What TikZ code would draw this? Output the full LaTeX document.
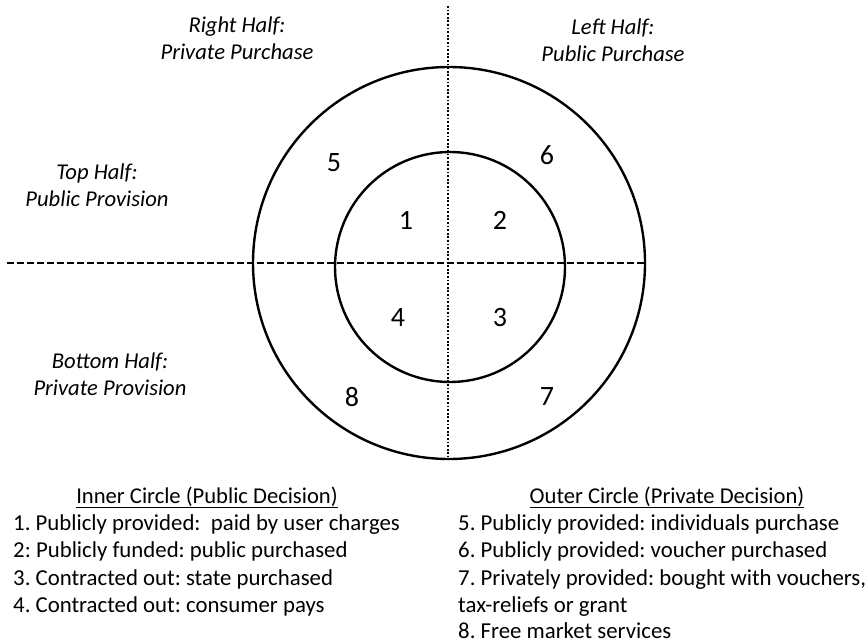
\documentclass[tikz,border=0pt]{standalone}
\usepackage{fontspec}
\setmainfont{Carlito}
\frenchspacing
\begin{document}
\begin{tikzpicture}[x=1pt,y=-1pt]

    \tikzset{
      halflabel/.style={
        align=center,
        font=\fontsize{22.6}{27.5}\selectfont\itshape,
        inner sep=0pt,
      },
      quarter/.style={
        font=\fontsize{28}{34}\selectfont,
        inner sep=0pt,
      },
      keyhead/.style={
        anchor=base,
        font=\fontsize{22.6}{27.5}\selectfont,
        inner sep=0pt,
      },
      keyline/.style={
        anchor=base west,
        font=\fontsize{22.8}{27.5}\selectfont,
        inner sep=0pt,
      },
    }
    \useasboundingbox (0,0) rectangle (867,644);

	\draw[color ={black},line width = 2.4] (449,263) circle[radius=196pt];
	\draw[color ={black},line width = 2.4] (450,267) circle[radius=115pt];
	\draw[color ={black},line width = 2.2,dash pattern=on 7pt off 3pt] (7,263)--(645,263);
	\draw[color ={black},line width = 1.8,dash pattern=on 1.8pt off 1.8pt] (448,6)--(448,457);

	\node[quarter] (q1) at (406,220) {1};
	\node[quarter] (q2) at (500,220) {2};
	\node[quarter] (q3) at (500,318) {3};
	\node[quarter] (q4) at (398,318) {4};
	\node[quarter] (q5) at (334,163) {5};
	\node[quarter] (q6) at (547,155) {6};
	\node[quarter] (q7) at (547,397) {7};
	\node[quarter] (q8) at (352,397) {8};

	\node[halflabel] (righthalf) at (237,38) {Right Half:\\Private Purchase};
	\node[halflabel] (lefthalf) at (613,40) {Left Half:\\Public Purchase};
	\node[halflabel] (tophalf) at (97,185) {Top Half:\\Public Provision};
	\node[halflabel] (bottomhalf) at (110,374) {Bottom Half:\\Private Provision};

	\node[keyhead] (innerhead) at (207,503) {\underline{Inner Circle (Public Decision)}};
	\node[keyline] (inner1) at (13,530) {1. Publicly provided:\ \ paid by user charges};
	\node[keyline] (inner2) at (13,557.5) {2: Publicly funded: public purchased};
	\node[keyline] (inner3) at (13,585) {3. Contracted out: state purchased};
	\node[keyline] (inner4) at (13,612.5) {4. Contracted out: consumer pays};

	\node[keyhead] (outerhead) at (667,503) {\underline{Outer Circle (Private Decision)}};
	\node[keyline] (outer5) at (458,530) {5. Publicly provided: individuals purchase};
	\node[keyline] (outer6) at (458,557.5) {6. Publicly provided: voucher purchased};
	\node[keyline] (outer7) at (458,585) {7. Privately provided: bought with vouchers,};
	\node[keyline] (outer7b) at (458,612.5) {tax-reliefs or grant};
	\node[keyline] (outer8) at (458,638) {8. Free market services};

\end{tikzpicture}
\end{document}
